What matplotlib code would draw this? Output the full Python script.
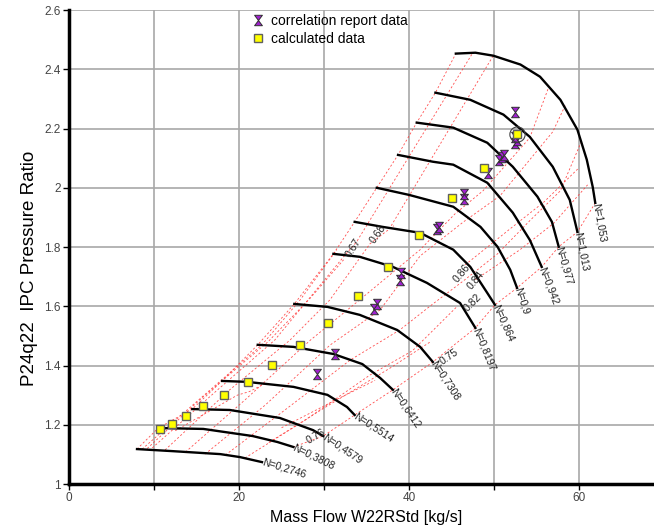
import numpy as np
import matplotlib.pyplot as plt
from matplotlib.path import Path

plt.rcParams['font.family'] = ['Liberation Sans', 'DejaVu Sans']

# speed lines (mass flow, pressure ratio)
n_0274 = [(8.0, 1.118), (12.2, 1.111), (17.8, 1.101), (20.1, 1.091), (22.7, 1.074)]
n_0381 = [(10.5, 1.189), (15.8, 1.186), (21.6, 1.162), (24.5, 1.142), (26.4, 1.125)]
n_0458 = [(14.5, 1.253), (18.9, 1.250), (24.8, 1.223), (28.7, 1.182), (29.9, 1.162)]
n_0551 = [(18.0, 1.348), (20.9, 1.345), (26.4, 1.328), (30.4, 1.301), (32.7, 1.260), (33.6, 1.233)]
n_0641 = [(22.2, 1.470), (26.4, 1.463), (31.1, 1.439), (34.5, 1.405), (36.6, 1.358), (38.1, 1.318)]
n_0731 = [(26.5, 1.608), (30.4, 1.598), (34.2, 1.571), (38.6, 1.520), (41.3, 1.463), (42.8, 1.412)]
n_0820 = [(31.1, 1.777), (34.2, 1.767), (38.1, 1.733), (42.1, 1.679), (46.0, 1.611), (47.8, 1.527)]
n_0864 = [(33.6, 1.885), (36.9, 1.868), (41.3, 1.848), (45.2, 1.791), (47.2, 1.733), (49.2, 1.645), (50.1, 1.605)]
n_0900 = [(36.2, 2.000), (40.0, 1.976), (45.2, 1.936), (48.4, 1.868), (50.4, 1.801), (51.9, 1.723), (52.7, 1.662)]
n_0942 = [(38.7, 2.111), (42.8, 2.088), (45.2, 2.078), (49.2, 2.017), (52.2, 1.916), (54.2, 1.824), (55.6, 1.733)]
n_0977 = [(40.9, 2.220), (45.2, 2.203), (49.2, 2.152), (52.2, 2.071), (55.1, 1.970), (56.8, 1.885), (57.6, 1.801)]
n_1013 = [(43.1, 2.321), (47.2, 2.297), (51.1, 2.247), (54.2, 2.172), (56.9, 2.071), (58.9, 1.959), (59.8, 1.851)]
n_1053 = [(45.5, 2.453), (47.8, 2.456), (49.9, 2.446), (53.1, 2.416), (55.4, 2.375), (57.8, 2.297),
          (59.8, 2.196), (60.9, 2.095), (61.6, 2.003), (61.9, 1.949)]

speed_lines = [n_0274, n_0381, n_0458, n_0551, n_0641, n_0731, n_0820,
               n_0864, n_0900, n_0942, n_0977, n_1013, n_1053]
speed_labels = ['N=0,2746', 'N=0,3808', 'N=0,4579', 'N=0,5514', 'N=0,6412', 'N=0,7308', 'N=0,8197',
                'N=0,864', 'N=0,9', 'N=0,942', 'N=0,977', 'N=1,013', 'N=1,053']
label_angles = [-17, -26, -34, -33, -56, -57, -68, -66, -72, -69, -74, -79, -80]

# efficiency contours (red dashed)
eff_surge = [(8.0, 1.118), (10.5, 1.189), (14.5, 1.253), (18.0, 1.348), (22.2, 1.470), (26.5, 1.608),
             (31.1, 1.777), (33.6, 1.885), (36.2, 2.000), (38.7, 2.111), (40.9, 2.220), (43.1, 2.321),
             (45.5, 2.453)]
eff_choke = [(61.9, 1.949), (59.8, 1.851), (57.6, 1.801), (55.6, 1.733), (52.7, 1.662), (50.1, 1.605),
             (47.8, 1.527), (42.8, 1.412), (38.1, 1.318), (33.6, 1.233), (29.9, 1.162), (26.4, 1.125)]
eff_a = [(8.6, 1.118), (22.7, 1.470), (27.2, 1.622), (31.5, 1.791)]
eff_a2 = [(9.2, 1.120), (15.6, 1.290), (23.4, 1.480), (28.3, 1.625), (32.3, 1.757)]
eff_b = [(9.8, 1.122), (17.2, 1.311), (24.2, 1.486), (32.5, 1.774), (33.9, 1.820)]
eff_b2 = [(33.9, 1.821), (47.5, 2.456)]
eff_c = [(11.3, 1.115), (18.9, 1.318), (26.0, 1.486), (30.7, 1.622), (35.4, 1.811), (38.2, 1.872)]
eff_c2 = [(37.9, 1.872), (49.9, 2.446)]
eff_d = [(13.7, 1.108), (20.7, 1.284), (28.4, 1.486), (34.2, 1.622), (41.3, 1.791), (45.4, 1.912),
         (48.7, 1.990), (54.2, 2.169), (56.4, 2.338)]
eff_e = [(16.0, 1.101), (23.1, 1.267), (30.7, 1.469), (36.6, 1.588), (41.3, 1.770), (46.4, 1.885),
         (50.7, 1.973), (56.9, 2.189), (58.4, 2.280)]
eff_f = [(18.4, 1.098), (25.4, 1.250), (33.1, 1.419), (38.9, 1.520), (42.8, 1.608), (46.4, 1.686),
         (50.4, 1.777), (54.2, 1.889), (57.8, 1.990), (60.2, 2.152)]
eff_g = [(20.7, 1.088), (27.8, 1.216), (35.4, 1.368), (40.4, 1.450), (45.6, 1.598)]
eff_g2 = [(46.6, 1.740), (51.6, 1.855), (55.9, 1.953), (60.0, 2.068)]
eff_h = [(23.5, 1.140), (30.2, 1.260), (37.8, 1.392), (42.5, 1.480)]
eff_h2 = [(47.8, 1.690), (53.0, 1.790), (57.0, 1.880), (61.0, 2.010)]
eff_k = [(12.5, 1.180), (19.8, 1.300), (21.2, 1.312), (23.0, 1.338)]
eff_m = [(25.0, 1.190), (31.8, 1.290), (36.0, 1.350)]
eff_lines = [eff_surge, eff_choke, eff_a, eff_a2, eff_b, eff_b2, eff_c, eff_c2, eff_d, eff_e,
             eff_f, eff_g, eff_g2, eff_h, eff_h2, eff_k, eff_m]

eff_texts = ['0.67', '0.68', '0.75', '0.76', '0.86', '0.84', '0.82']
eff_text_pos = [(33.4, 1.797), (36.4, 1.844), (44.7, 1.429), (29.0, 1.162), (46.2, 1.713),
                (47.8, 1.686), (47.5, 1.611)]
eff_text_rot = [58, 55, 35, 30, 50, 50, 45]

# measured points
calc_x = [10.7, 12.1, 13.8, 15.8, 18.2, 21.1, 23.9, 27.2, 30.5, 34.0, 37.5, 41.2, 45.1, 48.8, 52.7]
calc_y = [1.186, 1.203, 1.230, 1.264, 1.301, 1.345, 1.402, 1.470, 1.544, 1.635, 1.733, 1.841, 1.966,
          2.068, 2.182]
corr_x = [29.2, 31.3, 35.9, 36.2, 38.9, 39.1, 43.3, 43.5, 46.5, 46.5, 49.3, 50.6, 50.9, 51.2, 52.4,
          52.7, 52.5, 52.5]
corr_y = [1.372, 1.439, 1.591, 1.608, 1.689, 1.713, 1.861, 1.866, 1.963, 1.980, 2.050, 2.095, 2.103,
          2.110, 2.150, 2.162, 2.172, 2.257]
circled = (52.7, 2.182)

hourglass = Path([(-0.75, 1), (0.75, 1), (0, 0), (-0.75, 1), (0, 0), (0.75, -1), (-0.75, -1), (0, 0)],
                 [Path.MOVETO, Path.LINETO, Path.LINETO, Path.CLOSEPOLY,
                  Path.MOVETO, Path.LINETO, Path.LINETO, Path.CLOSEPOLY])

fig = plt.figure(figsize=(6.54, 5.29), dpi=100)
ax = fig.add_axes([0.1055, 0.085, 0.91, 0.896])

for line in eff_lines:
    xs, ys = zip(*line)
    ax.plot(xs, ys, color='#ff3b3b', lw=0.6, ls=(0, (2.5, 2.5)), alpha=0.9, zorder=2)

for txt, (tx, ty), rot in zip(eff_texts, eff_text_pos, eff_text_rot):
    ax.text(tx, ty, txt, fontsize=7.5, rotation=rot, ha='center', va='center',
            rotation_mode='anchor', color='#222222', zorder=4)

for line, lab, ang in zip(speed_lines, speed_labels, label_angles):
    xs, ys = zip(*line)
    ax.plot(xs, ys, color='black', lw=1.7, zorder=3)
    ax.text(xs[-1], ys[-1], lab, fontsize=7.5, rotation=ang, rotation_mode='anchor',
            ha='left', va='center', color='#222222', zorder=4)

ax.plot(corr_x, corr_y, ls='none', marker=hourglass, ms=7.5, mfc='#a020d0', mec='#303030', mew=0.7,
        zorder=5, label='correlation report data')
ax.plot(calc_x, calc_y, ls='none', marker='s', ms=6, mfc='#ffff00', mec='#606060', mew=1.0,
        zorder=6, label='calculated data')
ax.plot([circled[0]], [circled[1]], ls='none', marker='o', ms=11, mfc='none', mec='#404040', mew=0.8,
        zorder=6)

ax.set_xlim(0, 70)
ax.set_ylim(1, 2.6)
ax.set_xticks(np.arange(0, 71, 10))
ax.set_xticklabels(['0', '', '20', '', '40', '', '60', ''])
ax.set_yticks(np.arange(1, 2.61, 0.2))
ax.set_yticklabels(['1', '1.2', '1.4', '1.6', '1.8', '2', '2.2', '2.4', '2.6'])
ax.grid(True, color='#a8a8a8', lw=1.2)
ax.set_axisbelow(True)
for s in ['top', 'right']:
    ax.spines[s].set_visible(False)
for s in ['left', 'bottom']:
    ax.spines[s].set_linewidth(2.5)
ax.tick_params(length=4, width=1, labelsize=8.5, labelcolor='#444444', pad=2)

ax.set_xlabel('Mass Flow W22RStd [kg/s]', fontsize=11.5, labelpad=4)
ax.set_ylabel('P24q22  IPC Pressure Ratio', fontsize=13.5)
ax.yaxis.set_label_coords(-0.052, 0.456)

ax.legend(loc='upper left', bbox_to_anchor=(0.29, 1.013), frameon=False, fontsize=10,
          handlelength=1.0, handletextpad=0.4, borderaxespad=0.3, labelspacing=0.3)

fig.savefig('out.png', dpi=100)
